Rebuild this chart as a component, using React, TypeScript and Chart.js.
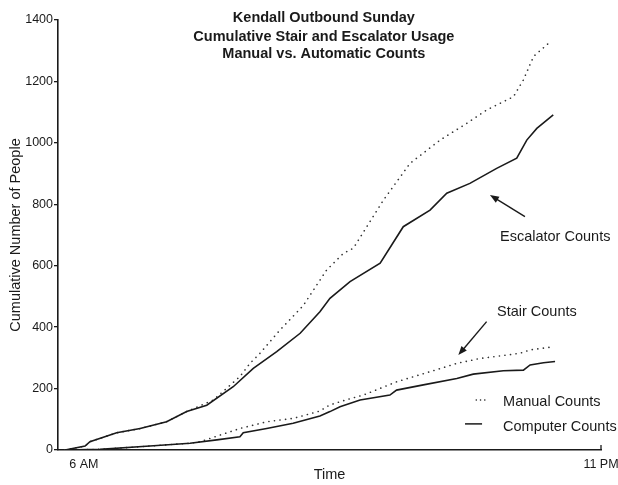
import { useEffect, useRef } from "react";
import { Chart, registerables } from "chart.js";

Chart.register(...registerables);

// Time in hours of day (6 = 6 AM, 23 = 11 PM)
const escalatorComputerTimes = [5.38, 6.04, 6.2, 7.08, 7.85, 8.72, 9.38, 10.04, 10.91, 11.57, 12.34, 13.11, 13.76, 14.09, 14.75, 15.74, 16.5, 17.38, 17.93, 18.69, 19.57, 20.23, 20.56, 20.89, 21.43];
const escalatorComputerCounts = [0, 13, 27, 56, 70, 92, 125, 146, 206, 266, 320, 380, 450, 494, 548, 608, 727, 781, 836, 868, 917, 950, 1009, 1047, 1091];

const escalatorManualTimes = [5.38, 6.04, 6.2, 7.08, 7.85, 8.72, 9.38, 10.26, 11.13, 11.46, 11.79, 12.45, 13.21, 13.98, 14.53, 14.86, 15.85, 16.72, 17.71, 18.58, 19.24, 20.12, 20.45, 20.78, 21.33];
const escalatorManualCounts = [0, 13, 27, 56, 70, 92, 125, 163, 239, 282, 315, 391, 470, 586, 640, 657, 814, 933, 1009, 1063, 1107, 1150, 1205, 1281, 1329];

const stairComputerTimes = [5.38, 6.53, 8.17, 9.49, 10.37, 11.13, 11.24, 12.01, 12.88, 13.76, 14.09, 14.42, 15.08, 16.06, 16.28, 17.16, 18.26, 18.8, 19.79, 20.45, 20.67, 21.11, 21.49];
const stairComputerCounts = [0, 2, 13, 22, 33, 43, 56, 70, 87, 111, 125, 141, 163, 179, 195, 212, 233, 247, 258, 260, 277, 284, 288];

const stairManualTimes = [5.38, 6.53, 8.17, 9.49, 9.82, 11.13, 12.01, 12.88, 13.11, 13.76, 14.09, 14.75, 15.19, 16.28, 17.38, 18.26, 19.02, 19.9, 20.34, 20.67, 21.43];
const stairManualCounts = [0, 2, 13, 22, 27, 70, 92, 103, 109, 127, 147, 167, 179, 222, 255, 282, 298, 309, 315, 326, 336];

const xTickValues = [6, 23];
const xTickLabels = ["6 AM", "11 PM"];
const yTickValues = [0, 200, 400, 600, 800, 1000, 1200, 1400];

const titleLines = ["Kendall Outbound Sunday", "Cumulative Stair and Escalator Usage", "Manual vs. Automatic Counts"];

const INK = "#1a1a1a";
const FONT = "'Liberation Sans', Arial, Helvetica, sans-serif";

const toPoints = (xs: number[], ys: number[]) => xs.map((x, i) => ({ x, y: ys[i] }));

function arrow(ctx: CanvasRenderingContext2D, x1: number, y1: number, x2: number, y2: number) {
  const ang = Math.atan2(y2 - y1, x2 - x1);
  const hl = 9;
  const hw = 3.5;
  ctx.beginPath();
  ctx.moveTo(x1, y1);
  ctx.lineTo(x2 - Math.cos(ang) * hl * 0.6, y2 - Math.sin(ang) * hl * 0.6);
  ctx.stroke();
  ctx.beginPath();
  ctx.moveTo(x2, y2);
  ctx.lineTo(x2 - Math.cos(ang) * hl + Math.sin(ang) * hw, y2 - Math.sin(ang) * hl - Math.cos(ang) * hw);
  ctx.lineTo(x2 - Math.cos(ang) * hl - Math.sin(ang) * hw, y2 - Math.sin(ang) * hl + Math.cos(ang) * hw);
  ctx.closePath();
  ctx.fill();
}

const annotationPlugin = {
  id: "annotations",
  afterDraw(chart: any) {
    const { ctx, scales } = chart;
    const xs = scales.x;
    const ys = scales.y;
    const X = (v: number) => xs.getPixelForValue(v);
    const Y = (v: number) => ys.getPixelForValue(v);
    ctx.save();
    ctx.fillStyle = INK;
    ctx.strokeStyle = INK;

    // Title
    ctx.font = `bold 14.5px ${FONT}`;
    ctx.textAlign = "center";
    ctx.textBaseline = "middle";
    const titleValues = [1406, 1346, 1288];
    titleLines.forEach((t, i) => ctx.fillText(t, X(13.89), Y(titleValues[i])));

    // 11 PM inward tick
    ctx.lineWidth = 1.3;
    ctx.beginPath();
    ctx.moveTo(X(23), Y(0));
    ctx.lineTo(X(23), Y(0) - 5);
    ctx.stroke();

    // Labels
    ctx.font = `14.5px ${FONT}`;
    ctx.textAlign = "left";
    ctx.fillText("Escalator Counts", X(19.68), Y(694));
    ctx.fillText("Stair Counts", X(19.58), Y(449));
    ctx.fillText("Manual Counts", X(19.78), Y(156));
    ctx.fillText("Computer Counts", X(19.78), Y(75));

    // Arrows
    ctx.lineWidth = 1.4;
    arrow(ctx, X(20.5), Y(760), X(19.35), Y(830));
    arrow(ctx, X(19.24), Y(418), X(18.31), Y(309));

    // Legend samples
    ctx.lineWidth = 1.5;
    ctx.beginPath();
    ctx.moveTo(X(18.53), Y(85));
    ctx.lineTo(X(19.09), Y(85));
    ctx.stroke();
    [18.9, 19.04, 19.18].forEach((v) => {
      ctx.beginPath();
      ctx.arc(X(v), Y(163), 0.8, 0, Math.PI * 2);
      ctx.fill();
    });
    ctx.restore();
  },
};

export default function App() {
  const canvasRef = useRef<HTMLCanvasElement | null>(null);

  useEffect(() => {
    document.body.style.margin = "0";
    const canvas = canvasRef.current;
    if (!canvas) return;
    const solid = {
      borderColor: INK,
      borderWidth: 1.6,
      pointRadius: 0,
      tension: 0,
      fill: false,
    };
    const dotted = {
      borderColor: "#333",
      borderWidth: 1.6,
      borderDash: [0.1, 5.5],
      borderCapStyle: "round" as const,
      pointRadius: 0,
      tension: 0,
      fill: false,
    };
    const chart = new Chart(canvas, {
      type: "line",
      data: {
        datasets: [
          { label: "Escalator Computer Counts", data: toPoints(escalatorComputerTimes, escalatorComputerCounts), ...solid },
          { label: "Escalator Manual Counts", data: toPoints(escalatorManualTimes, escalatorManualCounts), ...dotted },
          { label: "Stair Computer Counts", data: toPoints(stairComputerTimes, stairComputerCounts), ...solid },
          { label: "Stair Manual Counts", data: toPoints(stairManualTimes, stairManualCounts), ...dotted },
        ],
      },
      options: {
        responsive: false,
        animation: false,
        layout: { padding: { top: 20, right: 0, left: 0, bottom: 0 } },
        plugins: {
          legend: { display: false },
          title: { display: false },
          tooltip: { enabled: false },
        },
        scales: {
          x: {
            type: "linear",
            min: 5.15,
            max: 23,
            afterBuildTicks: (axis: any) => {
              axis.ticks = xTickValues.map((v) => ({ value: v }));
            },
            afterFit: (scale: any) => {
              scale.height = 35;
              scale.paddingLeft = 0;
              scale.paddingRight = 17;
            },
            ticks: {
              autoSkip: false,
              maxRotation: 0,
              padding: 8,
              color: INK,
              font: { family: FONT, size: 12.5, lineHeight: 1 },
              callback: (v: any) => {
                const i = xTickValues.indexOf(Number(v));
                return i >= 0 ? xTickLabels[i] : "";
              },
            },
            grid: { display: false, drawTicks: false },
            border: { display: true, color: INK, width: 1.6 },
            title: {
              display: true,
              text: "Time",
              color: INK,
              font: { family: FONT, size: 14.5 },
              padding: { top: 0, bottom: 1.3 },
            },
          },
          y: {
            type: "linear",
            min: 0,
            max: 1400,
            afterBuildTicks: (axis: any) => {
              axis.ticks = yTickValues.map((v) => ({ value: v }));
            },
            afterFit: (scale: any) => {
              scale.width = 58;
              scale.paddingTop = 0;
              scale.paddingBottom = 0;
            },
            ticks: {
              padding: 1,
              color: INK,
              font: { family: FONT, size: 12.5 },
              callback: (v: any) => String(v),
            },
            grid: {
              drawOnChartArea: false,
              drawTicks: true,
              tickLength: 4,
              color: INK,
              lineWidth: 1.3,
            },
            border: { display: true, color: INK, width: 1.6 },
            title: {
              display: true,
              text: "Cumulative Number of People",
              color: INK,
              font: { family: FONT, size: 14.5 },
              padding: { top: 7, bottom: 2 },
            },
          },
        },
      },
      plugins: [annotationPlugin],
    });
    return () => chart.destroy();
  }, []);

  return (
    <div style={{ width: 618, height: 485, background: "#fff" }}>
      <canvas ref={canvasRef} width={618} height={485} />
    </div>
  );
}
